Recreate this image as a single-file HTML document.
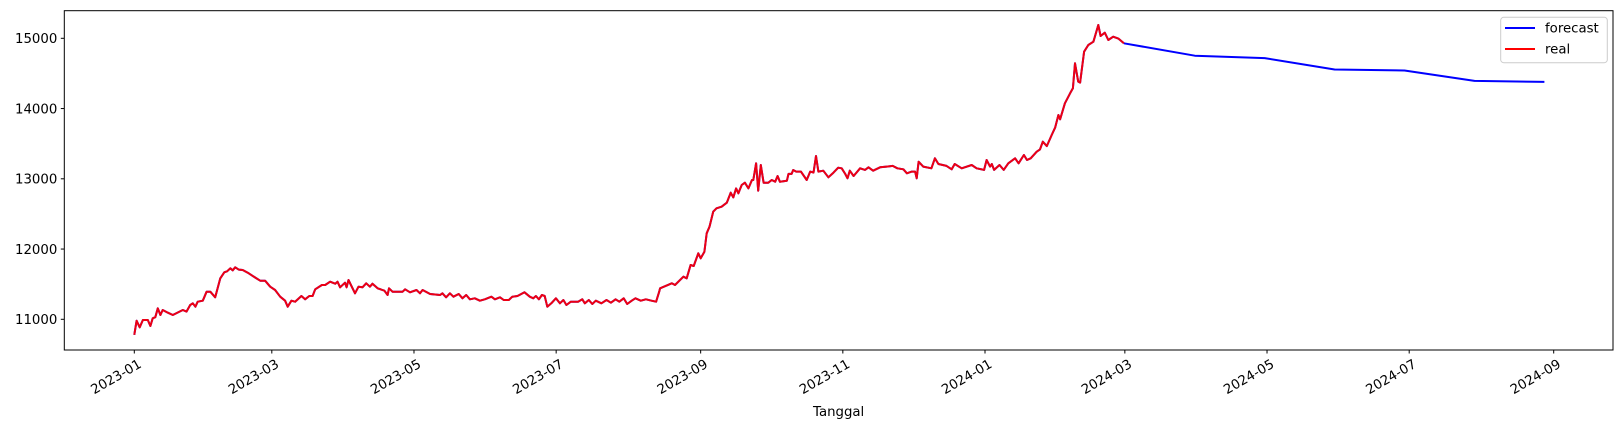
<!DOCTYPE html>
<html><head><meta charset="utf-8"><style>
html,body{margin:0;padding:0;background:#fff;}
svg{display:block;font-family:"DejaVu Sans","Liberation Sans",sans-serif;}
</style></head><body>
<svg id="chart" width="1623" height="430"></svg>
<script>
const realDays=[0,1.0,2.3,3.7,5.8,6.9,7.9,9.0,10.1,11.2,12.2,14.4,16.5,20.8,22.4,24.0,25.1,26.2,27.2,29.4,31.0,32.6,34.7,36.9,38.6,39.8,41.2,42.2,43.3,44.8,46.5,49.1,51.9,54.0,56.1,58.3,60.4,62.6,64.7,65.8,67.4,69.0,71.7,73.3,75.1,76.5,77.6,80.5,81.9,84.0,86.2,87.2,88.3,90.4,91.1,91.9,94.7,96.2,97.9,99.5,101.1,102.2,104.4,107.3,108.7,109.3,110.8,115.1,116.2,118.3,121.1,122.6,123.7,126.9,131.2,132.2,133.8,135.4,136.9,139.2,140.8,142.4,144.0,146.1,148.3,150.4,153.2,154.7,156.9,158.5,160.7,162.2,164.4,167.4,169.7,171.2,172.3,173.6,174.9,176.1,177.2,178.9,180.9,182.6,184.1,185.4,187.3,190.4,192.2,193.3,195.0,196.5,198.0,200.4,202.6,204.5,206.5,208.1,210.0,211.5,213.4,215.0,217.3,219.5,221.9,223.9,225.2,225.6,230.6,232,235.6,237,238.7,240,242,243,244.6,245.6,246.8,248.4,249.8,252,254.2,255.9,257,258.2,259.2,260.6,262,263.5,265,265.6,266.8,267.7,268.8,270,272,273.5,275,276,277,280,280.7,282,282.7,284,286,288.5,290,291.4,292.5,293.5,295.6,297.8,300,302,303.5,305,306,307,308.6,311.4,313.5,315,317,320,322.8,325.4,327.4,330,331.5,333.6,335,335.7,336.5,338.5,342,343.5,345,348.5,350.7,352,355,359.3,361.4,364.6,365.7,367.2,367.9,368.9,371.2,373,375,377.9,379.4,381.7,383,384.6,387.2,388.6,389.8,391.5,393.6,395.1,396.5,397.2,399.3,401.5,402.7,403.6,405,405.8,407.5,409.3,411.5,413.6,414.6,416.4,417.9,420,422.3,424.6];
const realValues=[10780,10980,10886,10990,10990,10905,11014,11030,11157,11061,11132,11094,11061,11132,11110,11204,11228,11180,11250,11265,11393,11393,11313,11584,11669,11683,11726,11697,11740,11707,11702,11655,11593,11549,11549,11464,11417,11322,11265,11180,11265,11251,11332,11285,11332,11332,11427,11488,11488,11535,11507,11535,11455,11521,11455,11560,11370,11464,11455,11512,11464,11507,11441,11407,11346,11441,11393,11393,11427,11384,11417,11370,11417,11360,11346,11370,11313,11370,11322,11360,11299,11346,11285,11299,11265,11285,11322,11285,11313,11275,11275,11322,11332,11384,11322,11299,11332,11285,11346,11332,11180,11228,11299,11228,11275,11204,11251,11251,11285,11228,11275,11218,11265,11228,11275,11237,11285,11251,11299,11218,11265,11299,11265,11285,11265,11251,11393,11441,11512,11488,11606,11584,11773,11759,11939,11868,11962,12224,12318,12532,12580,12603,12660,12802,12735,12864,12793,12912,12944,12864,12981,12983,13221,12831,13197,12944,12944,12983,12959,13040,12959,12973,13070,13070,13125,13102,13102,12983,13102,13088,13325,13102,13116,13021,13088,13158,13150,13070,13007,13116,13040,13150,13126,13163,13116,13163,13173,13183,13150,13135,13078,13102,13102,13007,13243,13173,13150,13292,13211,13183,13135,13211,13150,13197,13150,13126,13268,13173,13211,13126,13197,13126,13220,13292,13220,13339,13268,13292,13386,13419,13528,13466,13623,13732,13908,13847,14075,14217,14288,14644,14383,14369,14809,14904,14952,15189,15033,15080,14976,15023,14995,14929];
const forecastDays=[424.6,455,485,515,545,575,605];
const forecastValues=[14929,14752,14718,14556,14541,14393,14379];
const yTicks=[11000,12000,13000,14000,15000];
const xTickDays=[0,59,120,181,243,304,365,425,486,547,609];
const xTickLabels=["2023-01","2023-03","2023-05","2023-07","2023-09","2023-11","2024-01","2024-03","2024-05","2024-07","2024-09"];

const L=64.3,R=1613,T=10.7,B=350;
function xs(d){return 134.3+d*2.3307;}
function ys(v){return 319.3-(v-11000)*0.07025;}
const NS="http://www.w3.org/2000/svg";
const svg=document.getElementById('chart');
function mk(tag,attrs,parent){const e=document.createElementNS(NS,tag);for(const k in attrs)e.setAttribute(k,attrs[k]);(parent||svg).appendChild(e);return e;}

yTicks.forEach(v=>{
  const y=ys(v);
  const t=mk('line',{x1:L-3.5,x2:L,y1:y,y2:y,stroke:'#000','stroke-width':1});
  
  
  const tx=mk('text',{x:L-7,y:y+4.8,'text-anchor':'end','font-size':'13.3px',fill:'#000'});
  tx.textContent=v;
  
  
});
xTickDays.forEach((d,i)=>{
  const x=xs(d);
  const t=mk('line',{x1:x,x2:x,y1:B,y2:B+3.5,stroke:'#000','stroke-width':1});
  
  
  const g=mk('g',{transform:`translate(${x+3},${B+8}) rotate(-30)`});
  const tx=mk('text',{x:0,y:10,'text-anchor':'end','font-size':'13.3px',fill:'#000'},g);
  tx.textContent=xTickLabels[i];
  
  
});
function pathOf(ds,vs){return ds.map((d,i)=>(i?'L':'M')+xs(d).toFixed(1)+' '+ys(vs[i]).toFixed(1)).join(' ');}
const under=mk('path',{d:pathOf(realDays,realValues),fill:'none',stroke:'#0000ff','stroke-width':2,'stroke-linejoin':'round'});


const fl=mk('path',{d:pathOf(forecastDays,forecastValues),fill:'none',stroke:'#0000ff','stroke-width':2,'stroke-linejoin':'round'});


const rl=mk('path',{d:pathOf(realDays,realValues),fill:'none',stroke:'#ff0000','stroke-width':2,'stroke-linejoin':'round','stroke-opacity':0.93});



const frame=mk('rect',{x:L,y:T,width:R-L,height:B-T,fill:'none',stroke:'#000','stroke-width':1});



const xl=mk('text',{x:(L+R)/2,y:416,'text-anchor':'middle','font-size':'13.3px',fill:'#000'});
xl.textContent='Tanggal';



const lg=mk('g',{});


mk('rect',{x:1500.7,y:17.3,width:106.6,height:45.4,rx:3,fill:'#fff','fill-opacity':0.8,stroke:'#ccc','stroke-width':1},lg);
const e1=mk('line',{x1:1505,x2:1535,y1:28,y2:28,stroke:'#0000ff','stroke-width':2},lg);


const t1=mk('text',{x:1545,y:32.7,'font-size':'13.3px',fill:'#000'},lg);
t1.textContent='forecast';


const e2=mk('line',{x1:1505,x2:1535,y1:49,y2:49,stroke:'#ff0000','stroke-width':2},lg);


const t2=mk('text',{x:1545,y:53.7,'font-size':'13.3px',fill:'#000'},lg);
t2.textContent='real';


</script>
</body></html>
